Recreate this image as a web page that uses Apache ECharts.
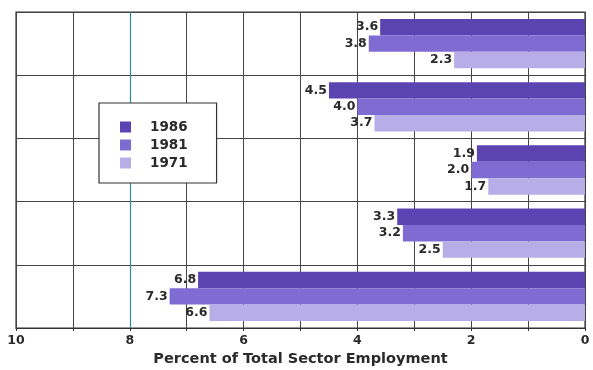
<!DOCTYPE html>
<html><head><meta charset="utf-8">
<script src="https://cdn.jsdelivr.net/npm/echarts@6/dist/echarts.min.js"></script>
<style>html,body{margin:0;padding:0;background:#fff}#c{width:593px;height:370px}</style>
</head><body><div id="c"></div>
<script>
const categories = ['Sector 1', 'Sector 2', 'Sector 3', 'Sector 4', 'Sector 5'];
const seriesNames = ['1986', '1981', '1971'];
const values1986 = [3.6, 4.5, 1.9, 3.3, 6.8];
const values1981 = [3.8, 4.0, 2.0, 3.2, 7.3];
const values1971 = [2.3, 3.7, 1.7, 2.5, 6.6];
const xTicks = [0, 2, 4, 6, 8, 10];
const highlightValue = 8;

const colors = ['#5b44b2', '#7f6cd2', '#b7aee8'];
const font = '"DejaVu Sans", sans-serif';
const chart = echarts.init(document.getElementById('c'));
const mk = (name, data, i) => ({
  name, type: 'bar', data, barGap: '0%', barCategoryGap: '22%',
  itemStyle: { color: colors[i] },
  label: { show: true, position: 'left', distance: 2, color: '#2a2a2a',
    fontFamily: font, fontWeight: 'bold', fontSize: 12.5,
    formatter: p => p.value.toFixed(1) },
  z: 3
});
const s = [mk(seriesNames[0], values1986, 0), mk(seriesNames[1], values1981, 1), mk(seriesNames[2], values1971, 2)];
s[0].markLine = { silent: true, symbol: 'none', label: { show: false },
  lineStyle: { color: '#2a8c9c', type: 'solid', width: 1.2 },
  data: [{ xAxis: highlightValue }], z: 1 };
chart.setOption({
  animation: false,
  grid: { left: 16, right: 8, top: 12, bottom: 42, outerBoundsMode: 'none', show: true, borderColor: '#333', borderWidth: 1.2 },
  legend: {
    orient: 'vertical', left: 99, top: 103, data: seriesNames,
    backgroundColor: '#fff', borderColor: '#333', borderWidth: 1.2,
    padding: [17, 29, 13, 21], itemWidth: 11, itemHeight: 11, itemGap: 4,
    icon: 'rect',
    textStyle: { fontFamily: font, fontWeight: 'bold', fontSize: 13.5, color: '#2a2a2a', padding: [0, 0, 0, 14] }
  },
  xAxis: {
    type: 'value', inverse: true, min: 0, max: 10, interval: 1,
    axisLine: { show: true, lineStyle: { color: '#333', width: 1.2 } },
    axisTick: { show: true, length: 3, inside: false, lineStyle: { color: '#333' } },
    splitLine: { show: true, lineStyle: { color: '#444', width: 1 } },
    axisLabel: { fontFamily: font, fontWeight: 'bold', fontSize: 12.5, color: '#2a2a2a', margin: 6,
      formatter: v => xTicks.includes(v) ? String(v) : '' },
    name: 'Percent of Total Sector Employment', nameLocation: 'middle', nameGap: 23,
    nameTextStyle: { fontFamily: font, fontWeight: 'bold', fontSize: 14.5, color: '#2a2a2a' }
  },
  yAxis: {
    type: 'category', data: categories, inverse: true,
    axisLine: { show: false }, axisTick: { show: false }, axisLabel: { show: false },
    splitLine: { show: true, lineStyle: { color: '#444', width: 1.2 } }
  },
  series: s
});
</script></body></html>
